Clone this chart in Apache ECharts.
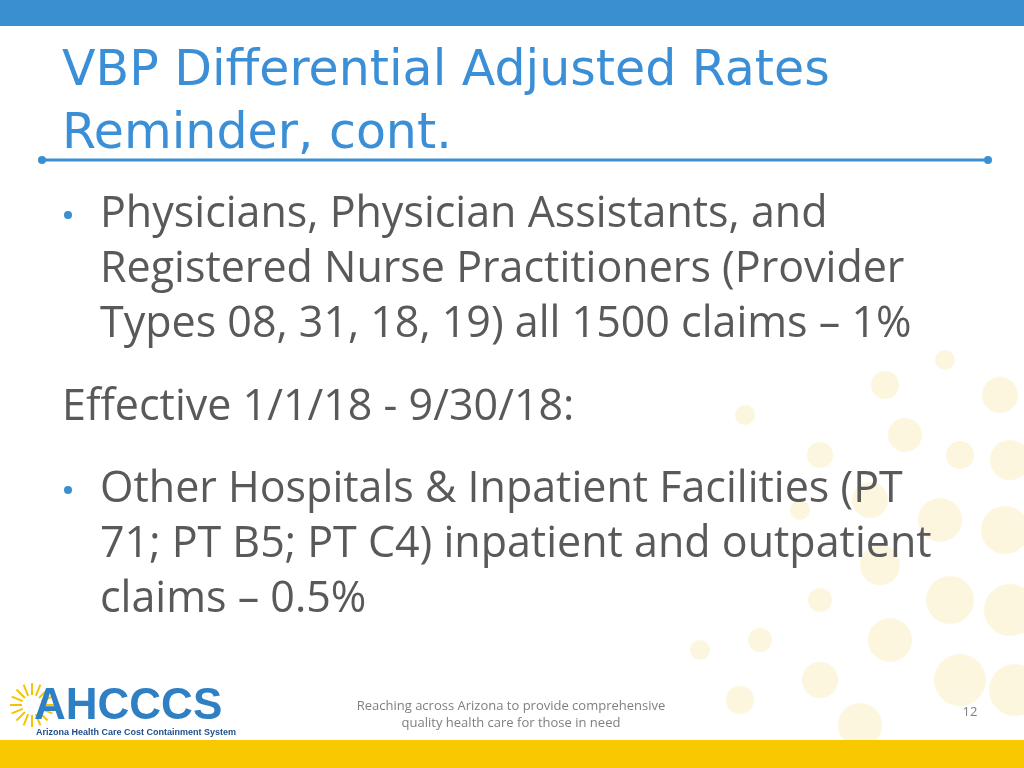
<!DOCTYPE html>
<html><head><meta charset="utf-8">
<script src="https://cdn.jsdelivr.net/npm/echarts@6/dist/echarts.min.js"></script>
<style>html,body{margin:0;padding:0;background:#fff}#c{width:1024px;height:768px}</style>
</head><body><div id="c"></div>
<script>
var titleLines = ['VBP Differential Adjusted Rates', 'Reminder, cont.'];
var bullet1 = ['Physicians, Physician Assistants, and', 'Registered Nurse Practitioners (Provider', 'Types 08, 31, 18, 19) all 1500 claims \u2013 1%'];
var effective = 'Effective 1/1/18 - 9/30/18:';
var bullet2 = ['Other Hospitals & Inpatient Facilities (PT', '71; PT B5; PT C4) inpatient and outpatient', 'claims \u2013 0.5%'];
var footer = ['Reaching across Arizona to provide comprehensive', 'quality health care for those in need'];
var pageNo = '12';
// decorative dots [x, y, r]
var dots = [[885,385,14],[945,360,10],[1000,395,18],[905,435,17],[960,455,14],[1010,460,20],[745,415,10],[820,455,13],
  [870,500,18],[940,520,22],[1005,530,24],[800,510,10],[880,565,20],[950,600,24],[1010,610,26],[820,600,12],
  [890,640,22],[960,680,26],[1015,690,26],[700,650,10],[760,640,12],[820,680,18],[860,725,22],[740,700,14]];

var chart = echarts.init(document.getElementById('c'));
var g = [];
dots.forEach(function (d) {
  g.push({type:'circle', shape:{cx:d[0], cy:d[1], r:d[2]}, style:{fill:'#fbeec0', opacity:0.5}, z:0});
});
g.push({type:'rect', shape:{x:0,y:0,width:1024,height:26}, style:{fill:'#3a8fd0'}});
g.push({type:'rect', shape:{x:0,y:740,width:1024,height:28}, style:{fill:'#f8c800'}});
titleLines.forEach(function (t, i) {
  g.push({type:'text', x:62, y:72 + i*63, style:{text:t, font:'49px "DejaVu Sans", sans-serif', fill:'#3b8fd6', verticalAlign:'middle'}});
});
g.push({type:'line', shape:{x1:42,y1:160,x2:988,y2:160}, style:{stroke:'#3a8fd0', lineWidth:3}});
g.push({type:'circle', shape:{cx:42,cy:160,r:4}, style:{fill:'#3a8fd0'}});
g.push({type:'circle', shape:{cx:988,cy:160,r:4}, style:{fill:'#3a8fd0'}});
var bodyFont = '43px "Open Sans", sans-serif';
function addBullet(lines, y0) {
  g.push({type:'circle', shape:{cx:68, cy:y0, r:4}, style:{fill:'#3a8fd0'}});
  lines.forEach(function (t, i) {
    g.push({type:'text', x:100, y:y0 + i*55, style:{text:t, font:bodyFont, fill:'#595959', verticalAlign:'middle'}});
  });
}
addBullet(bullet1, 215);
g.push({type:'text', x:62, y:408, style:{text:effective, font:bodyFont, fill:'#595959', verticalAlign:'middle'}});
addBullet(bullet2, 490);
footer.forEach(function (t, i) {
  g.push({type:'text', x:511, y:706 + i*17, style:{text:t, font:'13px "Open Sans", sans-serif', fill:'#7f7f7f', align:'center', verticalAlign:'middle'}});
});
g.push({type:'text', x:970, y:712, style:{text:pageNo, font:'13px "Open Sans", sans-serif', fill:'#7f7f7f', align:'center', verticalAlign:'middle'}});
// logo sun rays
for (var k = 0; k < 16; k++) {
  var a = Math.PI * 2 * k / 16;
  g.push({type:'line', shape:{x1:32+Math.cos(a)*10, y1:705+Math.sin(a)*10, x2:32+Math.cos(a)*22, y2:705+Math.sin(a)*22}, style:{stroke:'#f5c400', lineWidth:2}});
}
g.push({type:'text', x:34, y:707, style:{text:'AHCCCS', font:'bold 44px "Liberation Sans", sans-serif', fill:'#2e7fc4', verticalAlign:'middle'}});
g.push({type:'text', x:36, y:733, style:{text:'Arizona Health Care Cost Containment System', font:'bold 9px "Liberation Sans", sans-serif', fill:'#1f4e8c', verticalAlign:'middle'}});
chart.setOption({animation:false, graphic:g});
</script></body></html>
